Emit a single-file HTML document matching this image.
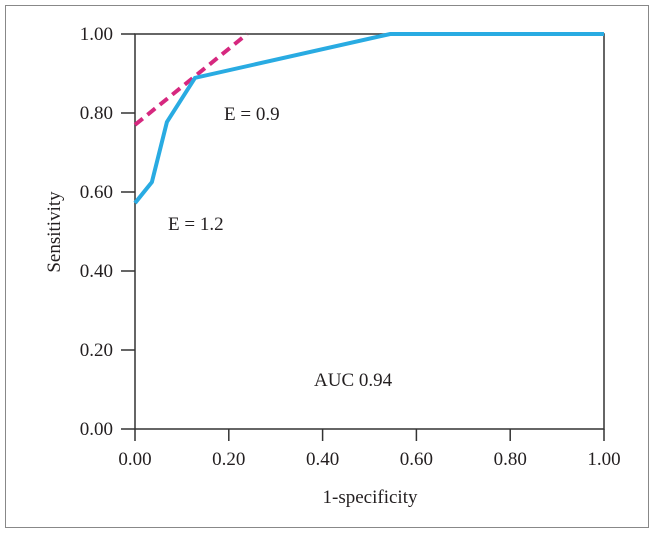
<!DOCTYPE html>
<html><head><meta charset="utf-8"><style>
body{margin:0;background:#fff;}
svg text{font-family:"Liberation Serif",serif;fill:#231f20;}
</style></head><body>
<svg width="654" height="533" xmlns="http://www.w3.org/2000/svg">
<rect x="5.5" y="5.5" width="643" height="522" fill="none" stroke="#888" stroke-width="1"/>
<g id="g"></g>
</svg>
<script>
const xTicks=[0,0.2,0.4,0.6,0.8,1.0];
const yTicks=[0,0.2,0.4,0.6,0.8,1.0];
const rocX=[0,0.036,0.068,0.128,0.544,1.0];
const rocY=[0.572,0.625,0.777,0.889,1.0,1.0];
const tanX=[0,0.239];
const tanY=[0.77,1.0];
const X0=135,X1=604,Y0=429,Y1=34;
const sx=v=>X0+v*(X1-X0), sy=v=>Y0-v*(Y0-Y1);
const g=document.getElementById('g');
function el(t,a,txt){const e=document.createElementNS('http://www.w3.org/2000/svg',t);for(const k in a)e.setAttribute(k,a[k]);if(txt!=null)e.textContent=txt;g.appendChild(e);return e;}
let e=el('rect',{x:X0,y:Y1,width:X1-X0,height:Y0-Y1,fill:'none',stroke:'#333','stroke-width':1.5});


xTicks.forEach(v=>{
 let t=el('line',{x1:sx(v),x2:sx(v),y1:Y0,y2:Y0+12,stroke:'#333','stroke-width':1.5});
 
 
 let l=el('text',{x:sx(v),y:Y0+36,'font-size':19,'text-anchor':'middle'},v.toFixed(2));
 
 
});
yTicks.forEach(v=>{
 let t=el('line',{x1:X0-14,x2:X0,y1:sy(v),y2:sy(v),stroke:'#333','stroke-width':1.5});
 
 
 let l=el('text',{x:X0-22,y:sy(v)+6,'font-size':19,'text-anchor':'end'},v.toFixed(2));
 
 
});
let p=el('polyline',{points:tanX.map((v,i)=>sx(v)+','+sy(tanY[i])).join(' '),fill:'none',stroke:'#d6287f','stroke-width':4,'stroke-dasharray':'10,6'});


p=el('polyline',{points:rocX.map((v,i)=>sx(v)+','+sy(rocY[i])).join(' '),fill:'none',stroke:'#29abe2','stroke-width':4,'stroke-linejoin':'miter'});


let t=el('text',{x:224,y:120,'font-size':19},'E = 0.9');


t=el('text',{x:168,y:230,'font-size':19},'E = 1.2');


t=el('text',{x:314,y:386,'font-size':19},'AUC 0.94');


t=el('text',{x:370,y:503,'font-size':19,'text-anchor':'middle'},'1-specificity');


t=el('text',{x:0,y:0,'font-size':19,'text-anchor':'middle',transform:'translate(60,232) rotate(-90)'},'Sensitivity');


</script>
</body></html>
